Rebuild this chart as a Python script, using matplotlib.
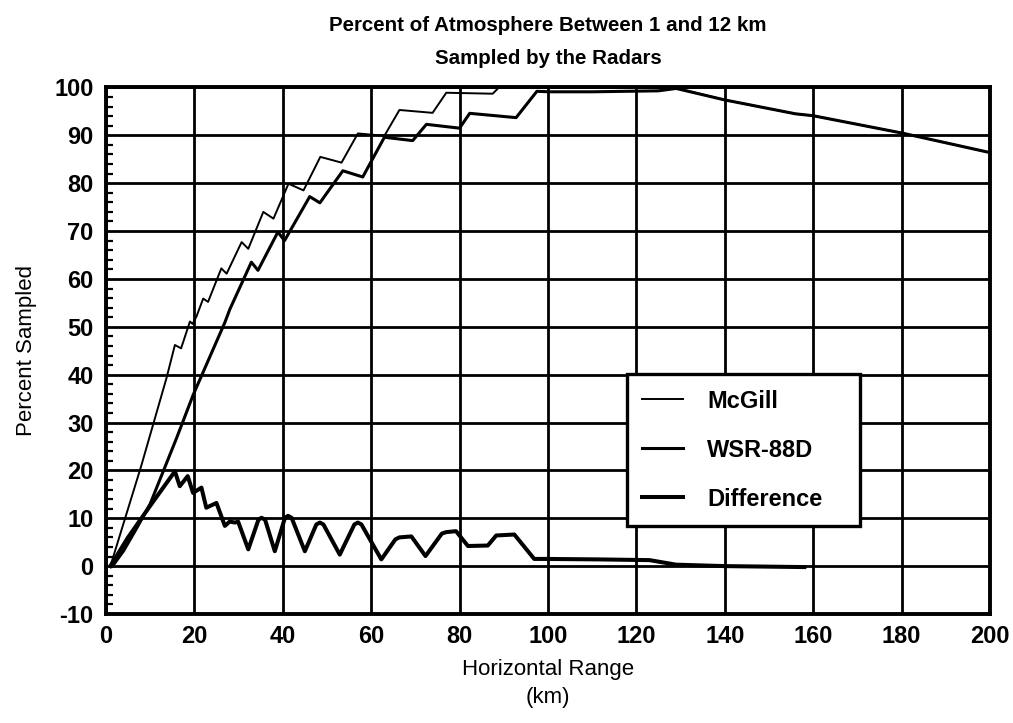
import numpy as np
import matplotlib
matplotlib.use('Agg')
import matplotlib.pyplot as plt
from matplotlib.ticker import MultipleLocator

plt.rcParams['font.family'] = ['Liberation Sans', 'DejaVu Sans']
plt.rcParams['axes.unicode_minus'] = False

# McGill radar (thin line)
mcgill_x = [1, 8, 13.7, 15.6, 17.0, 19.0, 19.6, 20.5, 22.0, 23.1, 26.1, 27.3, 30.7, 32.2,
            35.6, 37.9, 41.3, 44.7, 48.5, 53.3, 57.0, 63.0, 66.4, 73.9, 77.0, 87.5, 88.8,
            129, 140, 156, 160, 180, 200]
mcgill_y = [0, 21, 39.3, 46.2, 45.5, 51.1, 50.6, 52.2, 55.9, 55.2, 62.2, 61.1, 67.7, 66.3,
            74.0, 72.6, 79.9, 78.5, 85.5, 84.3, 90.4, 89.9, 95.3, 94.7, 98.9, 98.7, 99.9,
            99.9, 97.4, 94.5, 94.1, 90.5, 86.4]

# WSR-88D radar (medium line)
wsr_x = [1.5, 4, 7, 10, 16, 19.7, 26.9, 28.0, 32.9, 34.4, 38.9, 40.4, 46.1, 48.4,
         53.6, 58.1, 63.0, 69.4, 72.5, 80.0, 82.3, 92.8, 97.5, 100.3, 110, 125, 129,
         140, 156, 160, 180, 200]
wsr_y = [0, 3.2, 8.0, 13.0, 26.8, 35.7, 50.9, 53.6, 63.5, 61.8, 69.8, 68.0, 77.2, 75.9,
         82.6, 81.3, 89.6, 88.9, 92.3, 91.5, 94.6, 93.7, 99.2, 99.1, 99.1, 99.3, 99.8,
         97.4, 94.5, 94.1, 90.5, 86.4]

# Difference (thick line)
diff_x = [1, 5, 10, 15.6, 16.7, 18.5, 19.7, 21.6, 22.7, 25.0, 26.9, 28.0, 29.2, 29.9,
          32.2, 34.5, 35.2, 36.0, 38.2, 40.5, 41.2, 42.0, 45.0, 47.6, 48.4, 49.2, 52.9,
          56.2, 57.0, 57.8, 62.3, 65.5, 66.4, 69.1, 72.3, 76.0, 77.0, 79.2, 81.9, 86.4,
          88.3, 92.4, 96.9, 99.6, 111.6, 123, 129, 140, 158]
diff_y = [0, 6.0, 12.6, 19.8, 16.7, 18.8, 15.3, 16.4, 12.2, 13.2, 8.4, 9.3, 9.1, 9.3,
          3.5, 9.7, 10.1, 9.7, 3.1, 10.1, 10.5, 10.1, 3.1, 8.7, 9.1, 8.7, 2.4,
          8.7, 9.1, 8.7, 1.4, 5.6, 6.0, 6.2, 2.1, 6.8, 7.1, 7.3, 4.2, 4.3,
          6.4, 6.6, 1.5, 1.5, 1.4, 1.25, 0.3, 0.0, -0.2]

x_ticks = np.arange(0, 201, 20)
y_ticks = np.arange(-10, 101, 10)

fig = plt.figure(figsize=(10.13, 7.23), dpi=100)
ax = fig.add_axes([0.1046, 0.1508, 0.8726, 0.7282])

ax.plot(mcgill_x, mcgill_y, color='black', lw=1.4, label='McGill', zorder=3)
ax.plot(wsr_x, wsr_y, color='black', lw=2.2, label='WSR-88D', zorder=3)
ax.plot(diff_x, diff_y, color='black', lw=2.9, label='Difference', zorder=3,
        solid_joinstyle='round')

ax.set_xlim(0, 200)
ax.set_ylim(-10, 100)
ax.set_xticks(x_ticks)
ax.set_yticks(y_ticks)
ax.yaxis.set_minor_locator(MultipleLocator(2))
ax.grid(True, which='major', color='black', lw=2.0)
ax.set_axisbelow(True)
for s in ax.spines.values():
    s.set_linewidth(2.8)
ax.tick_params(axis='both', which='major', length=0, labelsize=17, pad=8)
ax.tick_params(axis='y', which='major', pad=9)
ax.tick_params(axis='y', which='minor', direction='in', length=5, width=1.6, left=True)
for lab in ax.get_xticklabels() + ax.get_yticklabels():
    lab.set_fontweight('bold')

ax.set_xlabel('Horizontal Range\n(km)', fontsize=16, labelpad=8, linespacing=1.45)
ax.set_ylabel('Percent Sampled', fontsize=16, labelpad=12)
ax.set_title('Percent of Atmosphere Between 1 and 12 km\nSampled by the Radars',
             fontsize=14.8, fontweight='bold', pad=17, linespacing=1.9)

leg = ax.legend(loc='lower left', bbox_to_anchor=(0.589, 0.167, 0.264, 0.288),
                mode='expand', fontsize=17, frameon=True, fancybox=False,
                handlelength=1.75, handletextpad=1.0, labelspacing=1.1,
                borderpad=0.65, borderaxespad=0)
leg.get_frame().set_edgecolor('black')
leg.get_frame().set_linewidth(2.4)
leg.get_frame().set_alpha(1)
for t in leg.get_texts():
    t.set_fontweight('bold')

fig.savefig('out.png', dpi=100)
